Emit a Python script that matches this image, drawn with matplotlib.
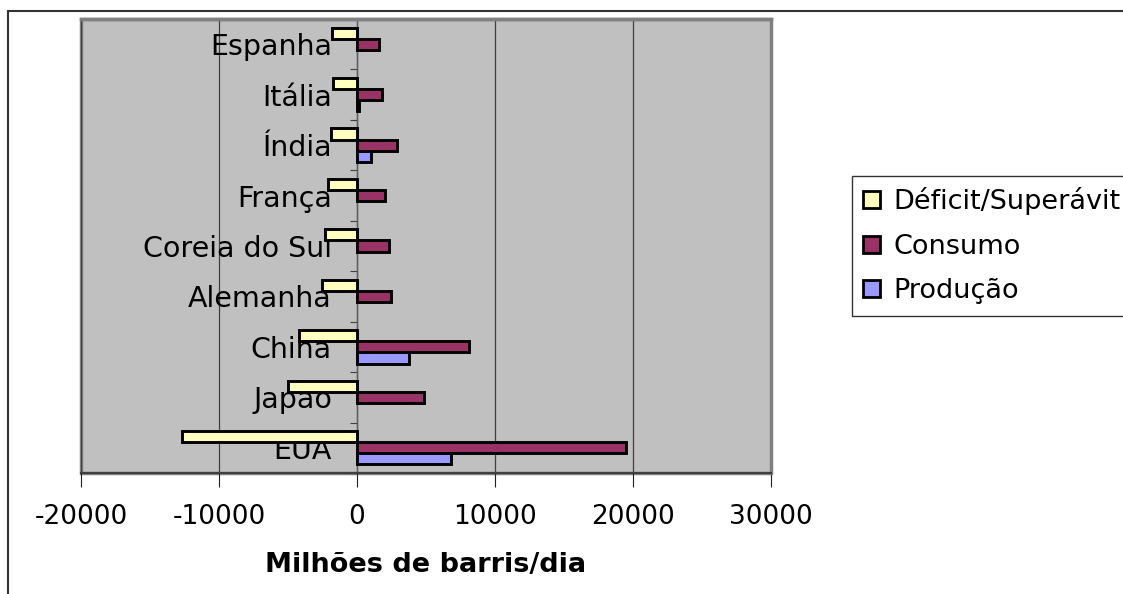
import numpy as np
import matplotlib
matplotlib.use("Agg")
import matplotlib.pyplot as plt
from matplotlib.patches import Rectangle, Patch

# data (bottom to top as drawn)
paises = ["EUA", "Japão", "China", "Alemanha", "Coreia do Sul",
          "França", "Índia", "Itália", "Espanha"]
deficit = [-12700, -5000, -4200, -2550, -2300, -2100, -1900, -1740, -1810]
consumo = [19500, 4850, 8100, 2500, 2320, 2030, 2900, 1810, 1590]
producao = [6800, 0, 3770, 0, 0, 0, 1000, 150, 0]

series_names = ["Déficit/Superávit", "Consumo", "Produção"]
cores = ["#FFFFC0", "#993366", "#9999FF"]
x_ticks = [-20000, -10000, 0, 10000, 20000, 30000]

plt.rcParams["font.family"] = ["DejaVu Sans"]

fig = plt.figure(figsize=(11.23, 5.94), dpi=100)
ax = fig.add_axes([81 / 1123, 1 - 473 / 594, 690 / 1123, 454 / 594])
ax.set_facecolor("#C0C0C0")

y = np.arange(len(paises))
h = 0.22
for vals, off, cor in zip([deficit, consumo, producao], [h, 0, -h], cores):
    bars = ax.barh(y + off, vals, height=h, color=cor, edgecolor="black",
                   linewidth=2.1, zorder=3)
    for b, v in zip(bars, vals):
        if v == 0:
            b.set_visible(False)

ax.set_xlim(x_ticks[0], x_ticks[-1])
ax.set_ylim(-0.5, len(paises) - 0.5)
ax.set_xticks(x_ticks)
ax.set_xticklabels([str(v) for v in x_ticks], fontsize=19)
ax.grid(axis="x", color="#404040", linewidth=0.9)
ax.set_axisbelow(True)

# y axis sits at zero
ax.spines["left"].set_position(("data", 0))
ax.spines["left"].set_color("#606060")
ax.spines["left"].set_linewidth(1.0)
ax.set_yticks(np.arange(-0.5, len(paises)))
ax.set_yticklabels([])
ax.set_yticks(y, minor=True)
ax.set_yticklabels(paises, minor=True, fontsize=20.5)
ax.tick_params(axis="y", which="major", length=5, color="#404040", direction="out")
ax.tick_params(axis="y", which="minor", length=0, pad=18)
for t in ax.get_yticklabels(minor=True):
    t.set_zorder(1)

ax.spines["bottom"].set_color("#404040")
ax.spines["bottom"].set_linewidth(1.5)
ax.spines["top"].set_color("#808080")
ax.spines["top"].set_linewidth(2.5)
ax.spines["right"].set_color("#808080")
ax.spines["right"].set_linewidth(2)
ax.add_patch(Rectangle((0, 0), 1, 1, transform=ax.transAxes, fill=False,
                       edgecolor="#808080", linewidth=2.5, zorder=0.5, clip_on=False))
ax.tick_params(axis="x", length=10, color="#202020", pad=12)
ax.set_xlabel("Milhões de barris/dia", fontsize=19.5, fontweight="bold", labelpad=16)

handles = [Patch(facecolor=c, edgecolor="black", linewidth=2) for c in cores]
leg = fig.legend(handles, series_names, loc="upper left",
                 bbox_to_anchor=(852 / 1123, 1 - 176 / 594), fontsize=19.5,
                 frameon=True, fancybox=False, borderaxespad=0,
                 handlelength=0.6, handleheight=0.6, handletextpad=0.5,
                 labelspacing=0.68, borderpad=0.42)
leg.get_frame().set_edgecolor("black")
leg.get_frame().set_linewidth(1.0)

# outer frame of the figure (only top and left visible)
fig.add_artist(Rectangle((8 / 1123, -0.5), 1.5, 0.5 + 1 - 11 / 594,
                         transform=fig.transFigure, fill=False,
                         edgecolor="#333333", linewidth=1.5))

fig.savefig("out.png", dpi=100)
